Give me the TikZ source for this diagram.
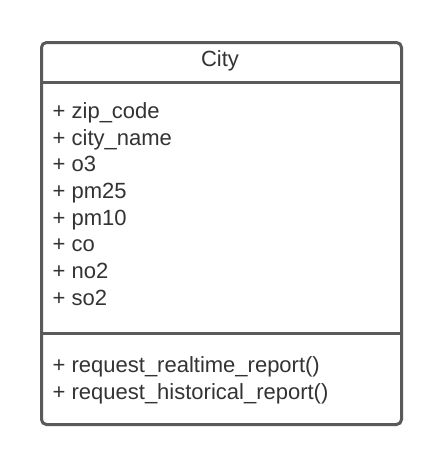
\documentclass[tikz,border=0pt]{standalone}
\usepackage{fontspec}
\setmainfont{Liberation Sans}
\definecolor{umlline}{HTML}{5A5A5A}
\definecolor{umltext}{HTML}{333333}
\begin{document}
\begin{tikzpicture}[x=1pt,y=-1pt,
  member/.style={anchor=base west,inner sep=0pt,text=umltext,font=\fontsize{22}{26}\selectfont},
  titletext/.style={anchor=base,inner sep=0pt,text=umltext,font=\fontsize{22}{26}\selectfont},
  frame/.style={draw=umlline,line width=3pt,rounded corners=5pt}]
\useasboundingbox (0,0) rectangle (440,464);
\fill[white] (0,0) rectangle (440,464);
\node[frame,minimum width=360pt,minimum height=382pt,anchor=north west,inner sep=0pt] (box) at (40,41) {};
\coordinate (s1l) at (40,82);
\coordinate (s1r) at (400,82);
\coordinate (s2l) at (40,333);
\coordinate (s2r) at (400,333);
\draw[draw=umlline,line width=3pt] (s1l) -- (s1r);
\draw[draw=umlline,line width=3pt] (s2l) -- (s2r);
\node[titletext] (title) at (220,66) {City};
\node[member] (a1) at (52.5,118.3) {+ zip\_code};
\node[member] (a2) at (52.5,145) {+ city\_name};
\node[member] (a3) at (52.5,171.7) {+ o3};
\node[member] (a4) at (52.5,198.3) {+ pm25};
\node[member] (a5) at (52.5,225) {+ pm10};
\node[member] (a6) at (52.5,251.7) {+ co};
\node[member] (a7) at (52.5,278.3) {+ no2};
\node[member] (a8) at (52.5,305) {+ so2};
\node[member] (m1) at (52.5,372.7) {+ request\_realtime\_report()};
\node[member] (m2) at (52.5,399.3) {+ request\_historical\_report()};
\end{tikzpicture}
\end{document}
